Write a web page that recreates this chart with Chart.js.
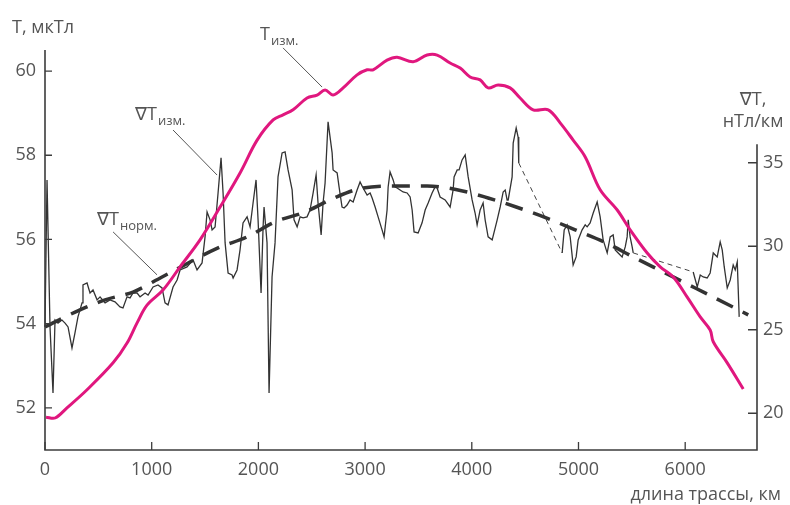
<!DOCTYPE html>
<html>
<head>
<meta charset="utf-8">
<script src="https://cdn.jsdelivr.net/npm/chart.js@4/dist/chart.umd.min.js"></script>
<style>
  html, body { margin: 0; padding: 0; background: #fff; }
  #wrap { width: 790px; height: 505px; position: relative; }
</style>
</head>
<body>
<div id="wrap"><canvas id="chart"></canvas></div>
<script>
"use strict";

// Data ----------------------------------------------------------------------
// T measured, мкТл (left axis)
const tKm = [10, 94, 206, 394, 638, 769, 863, 956, 1106, 1266, 1453, 1641, 1828, 1988,
  2138, 2231, 2325, 2456, 2550, 2625, 2700, 2794, 2925, 3019, 3075, 3206, 3300, 3450,
  3581, 3675, 3797, 3891, 3984, 4078, 4153, 4247, 4359, 4453, 4575, 4716, 4828, 4950,
  5063, 5203, 5363, 5484, 5644, 5766, 5888, 6019, 6141, 6234, 6263, 6394, 6544];
const tVal = [51.78, 51.76, 52.0, 52.43, 53.07, 53.54, 54.02, 54.44, 54.8, 55.35, 55.99,
  56.77, 57.58, 58.36, 58.84, 58.96, 59.08, 59.36, 59.43, 59.55, 59.43, 59.6, 59.91,
  60.03, 60.03, 60.26, 60.33, 60.22, 60.38, 60.38, 60.19, 60.07, 59.86, 59.79, 59.6,
  59.67, 59.6, 59.36, 59.08, 59.08, 58.77, 58.36, 57.96, 57.18, 56.7, 56.23, 55.68,
  55.35, 55.11, 54.63, 54.16, 53.85, 53.57, 53.07, 52.45];

// ∇T measured, нТл/км (right axis), three recorded stretches
const gradKm1 = [0, 19, 47, 75, 94, 122, 159, 188, 216, 253, 281, 309, 347, 356, 394, 422,
  450, 488, 516, 563, 609, 656, 703, 731, 769, 797, 825, 863, 891, 938, 966, 1013, 1059,
  1097, 1125, 1153, 1200, 1238, 1266, 1331, 1388, 1425, 1472, 1500, 1519, 1547, 1566,
  1594, 1622, 1650, 1669, 1688, 1716, 1753, 1763, 1800, 1828, 1856, 1894, 1922, 1950,
  1978, 1997, 2025, 2044, 2053, 2081, 2100, 2128, 2156, 2184, 2222, 2250, 2278, 2316,
  2334, 2363, 2391, 2419, 2456, 2484, 2513, 2541, 2559, 2588, 2606, 2625, 2653, 2691,
  2700, 2738, 2756, 2784, 2803, 2831, 2859, 2888, 2925, 2953, 2981, 3019, 3047, 3066,
  3094, 3122, 3159, 3178, 3206, 3216, 3234, 3263, 3281, 3300, 3328, 3356, 3394, 3422,
  3441, 3459, 3497, 3534, 3563, 3591, 3628, 3656, 3675, 3703, 3750, 3797, 3825, 3834,
  3863, 3881, 3909, 3938, 3966, 4003, 4031, 4050, 4078, 4106, 4125, 4153, 4191, 4238,
  4266, 4294, 4313, 4331, 4341, 4378, 4388, 4416, 4434, 4440];
const gradVal1 = [25.17, 33.97, 25.17, 21.21, 25.58, 25.4, 25.58, 25.4, 25.17, 23.91,
  24.81, 25.77, 26.61, 27.68, 27.8, 27.2, 27.38, 26.79, 26.97, 26.61, 26.79, 26.67, 26.37,
  26.31, 26.97, 26.91, 27.2, 27.2, 26.97, 27.2, 27.08, 27.56, 27.68, 27.5, 26.61, 26.49,
  27.56, 27.98, 28.58, 28.76, 29.18, 28.58, 29.0, 30.56, 32.05, 31.58, 30.98, 31.16,
  33.19, 35.29, 33.19, 30.2, 28.4, 28.28, 28.1, 28.58, 29.78, 31.4, 31.76, 31.16, 32.59,
  33.97, 31.58, 27.2, 31.16, 32.35, 30.2, 21.21, 28.16, 30.2, 34.15, 35.59, 35.65, 34.57,
  33.37, 31.58, 31.16, 31.76, 31.7, 31.76, 32.17, 33.19, 34.27, 32.59, 30.68, 32.59,
  33.79, 37.45, 35.59, 34.57, 34.39, 33.55, 32.35, 32.29, 32.47, 32.77, 32.65, 33.37,
  33.85, 33.49, 33.07, 33.19, 32.89, 32.35, 31.76, 30.98, 30.56, 32.17, 33.55, 34.45,
  33.97, 33.55, 33.49, 33.37, 33.25, 33.19, 32.95, 32.17, 30.86, 30.8, 31.4, 32.17,
  32.59, 33.19, 33.55, 33.49, 32.95, 32.77, 32.35, 33.37, 34.15, 34.57, 34.57, 35.17,
  35.47, 34.15, 32.77, 31.99, 31.28, 32.17, 32.59, 31.58, 30.56, 30.38, 31.58, 32.35,
  33.25, 33.37, 32.77, 32.77, 34.15, 36.18, 37.08, 36.54, 34.99];
const gradKm2 = [4847, 4866, 4894, 4922, 4950, 4978, 4997, 5034, 5063, 5081, 5109, 5138,
  5175, 5203, 5231, 5269, 5297, 5325, 5344, 5372, 5409, 5438, 5456, 5466, 5484, 5503, 5513];
const gradVal2 = [29.6, 30.98, 31.28, 30.56, 28.88, 29.36, 30.38, 30.98, 31.28, 31.16,
  31.4, 31.99, 32.65, 31.76, 30.38, 29.6, 30.56, 30.68, 29.78, 29.6, 29.36, 29.96, 30.56,
  31.58, 30.56, 29.96, 29.6];
const gradKm3 = [6075, 6113, 6141, 6169, 6206, 6234, 6263, 6300, 6328, 6347, 6366, 6394,
  6422, 6450, 6469, 6488, 6506];
const gradVal3 = [28.46, 27.56, 28.28, 28.16, 28.1, 28.4, 29.6, 29.36, 30.26, 29.78, 28.76,
  27.5, 27.98, 28.88, 28.58, 29.06, 25.77];

// ∇T normal, нТл/км (right axis)
const normKm = [0, 328, 563, 825, 1097, 1622, 1894, 2156, 2438, 2709, 2981, 3300, 3581,
  3872, 4153, 4416, 4697, 4969, 5259, 5513, 5794, 6094, 6591];
const normVal = [25.17, 26.19, 26.79, 27.26, 28.16, 29.9, 30.56, 31.46, 32.05, 32.89,
  33.49, 33.61, 33.61, 33.37, 32.89, 32.35, 31.7, 30.98, 30.2, 29.36, 28.46, 27.5, 25.89];

// Ticks
const xTicks = [0, 1000, 2000, 3000, 4000, 5000, 6000];
const tTicks = [52, 54, 56, 58, 60];
const gradTicks = [20, 25, 30, 35];

// Styles --------------------------------------------------------------------
const MAGENTA = "#e0177e";
const INK = "#333333";
const AXIS = "#3c3c3c";
const LABEL = "#555555";
const FONT = '"Open Sans", "DejaVu Sans", sans-serif';

const pts = (xs, ys) => xs.map((v, i) => ({ x: v, y: ys[i] }));

// gap connectors between recorded stretches
const gapLine = [
  { x: gradKm1[gradKm1.length - 1], y: gradVal1[gradVal1.length - 1] },
  { x: gradKm2[0], y: gradVal2[0] },
  { x: NaN, y: NaN },
  { x: gradKm2[gradKm2.length - 1], y: gradVal2[gradVal2.length - 1] },
  { x: gradKm3[0], y: gradVal3[0] },
];

// annotation labels: [main, sub, label x, label y (left axis), leader from, leader to]
const notes = [
  ["T", "изм.", 2016, 60.74, [2231, 60.55], [2597, 59.62]],
  ["∇T", "изм.", 844, 58.84, [1200, 58.6], [1613, 57.53]],
  ["∇T", "норм.", 488, 56.34, [638, 56.18], [1050, 55.16]],
];

// Axes + labels plugin ------------------------------------------------------
const frame = {
  id: "frame",
  afterDraw(chart) {
    const { ctx, chartArea: a, scales } = chart;
    const { x, yT, yG } = scales;
    ctx.save();
    ctx.strokeStyle = AXIS;
    ctx.lineWidth = 1.6;
    ctx.beginPath();
    ctx.moveTo(a.left, a.top);
    ctx.lineTo(a.left, a.bottom);
    ctx.lineTo(a.right, a.bottom);
    ctx.lineTo(a.right, yG.getPixelForValue(36.1));
    ctx.stroke();

    ctx.lineWidth = 1.3;
    ctx.beginPath();
    tTicks.forEach((v) => {
      const py = yT.getPixelForValue(v);
      ctx.moveTo(a.left, py); ctx.lineTo(a.left + 7, py);
    });
    gradTicks.forEach((v) => {
      const py = yG.getPixelForValue(v);
      ctx.moveTo(a.right, py); ctx.lineTo(a.right - 9, py);
    });
    xTicks.forEach((v) => {
      const px = x.getPixelForValue(v);
      ctx.moveTo(px, a.bottom); ctx.lineTo(px, a.bottom - 8);
    });
    ctx.stroke();

    ctx.fillStyle = LABEL;
    ctx.font = "18px " + FONT;
    ctx.textBaseline = "middle";
    ctx.textAlign = "right";
    tTicks.forEach((v) => ctx.fillText(String(v), a.left - 9, yT.getPixelForValue(v)));
    ctx.textAlign = "left";
    gradTicks.forEach((v) => ctx.fillText(String(v), a.right + 6, yG.getPixelForValue(v)));
    ctx.textAlign = "center";
    xTicks.forEach((v) => ctx.fillText(String(v), x.getPixelForValue(v), a.bottom + 20));

    // axis titles
    ctx.textBaseline = "alphabetic";
    ctx.textAlign = "left";
    ctx.fillText("T, мкТл", 12, 33);
    ctx.textAlign = "center";
    ctx.fillText("∇T,", 753, 105);
    ctx.fillText("нТл/км", 753, 127);
    ctx.textAlign = "right";
    ctx.fillText("длина трассы, км", 781, 500);

    // annotations
    ctx.strokeStyle = "#555";
    ctx.lineWidth = 1;
    notes.forEach(([main, sub, lx, ly, from, to]) => {
      const px = x.getPixelForValue(lx);
      const py = yT.getPixelForValue(ly);
      ctx.textAlign = "left";
      ctx.font = "18px " + FONT;
      ctx.fillText(main, px, py);
      const w = ctx.measureText(main).width;
      ctx.font = "13px " + FONT;
      ctx.fillText(sub, px + w + 1, py + 5);
      ctx.beginPath();
      ctx.moveTo(x.getPixelForValue(from[0]), yT.getPixelForValue(from[1]));
      ctx.lineTo(x.getPixelForValue(to[0]), yT.getPixelForValue(to[1]));
      ctx.stroke();
    });
    ctx.restore();
  },
};

// Chart ---------------------------------------------------------------------
new Chart(document.getElementById("chart"), {
  type: "line",
  data: {
    datasets: [
      { label: "T изм.", data: pts(tKm, tVal), yAxisID: "yT", borderColor: MAGENTA,
        borderWidth: 3, tension: 0.35 },
      { label: "∇T норм.", data: pts(normKm, normVal), yAxisID: "yG", borderColor: INK,
        borderWidth: 3.5, borderDash: [18, 11], cubicInterpolationMode: "monotone" },
      { label: "∇T изм. 1", data: pts(gradKm1, gradVal1), yAxisID: "yG", borderColor: INK,
        borderWidth: 1.3 },
      { label: "∇T изм. 2", data: pts(gradKm2, gradVal2), yAxisID: "yG", borderColor: INK,
        borderWidth: 1.3 },
      { label: "∇T изм. 3", data: pts(gradKm3, gradVal3), yAxisID: "yG", borderColor: INK,
        borderWidth: 1.3 },
      { label: "gap", data: gapLine, yAxisID: "yG", borderColor: "#444",
        borderWidth: 1, borderDash: [5, 4], spanGaps: false },
    ],
  },
  options: {
    responsive: true,
    maintainAspectRatio: false,
    animation: false,
    layout: { padding: { left: 45, right: 33, top: 50, bottom: 55 } },
    elements: { point: { radius: 0 }, line: { fill: false, tension: 0 } },
    clip: false,
    scales: {
      x: { type: "linear", min: 0, max: 6673, display: false },
      yT: { type: "linear", position: "left", min: 51, max: 60.5, display: false },
      yG: { type: "linear", position: "right", min: 17.8, max: 41.75, display: false },
    },
    plugins: { legend: { display: false }, tooltip: { enabled: false } },
  },
  plugins: [frame],
});
</script>
</body>
</html>
